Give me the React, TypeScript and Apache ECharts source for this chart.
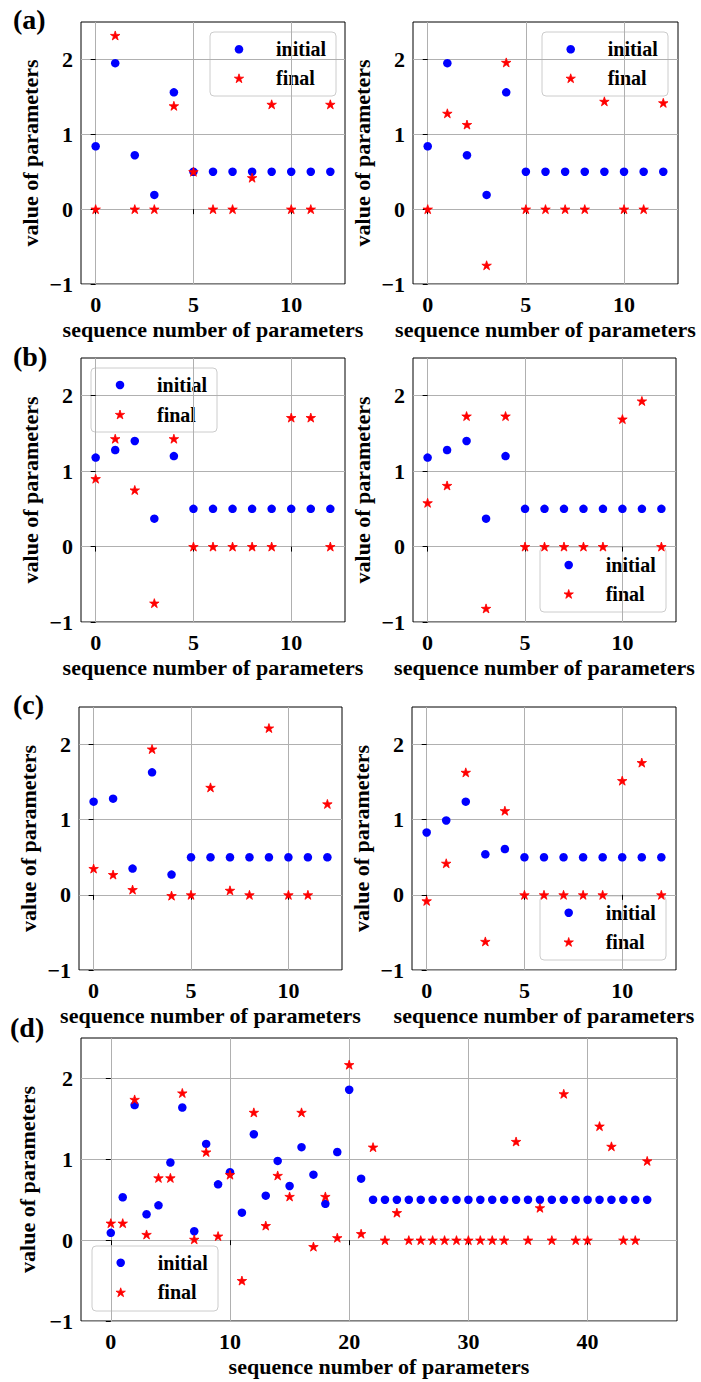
import React, { useEffect, useRef } from 'react';
import * as echarts from 'echarts';

// ---------- data ----------
const seq13 = [0, 1, 2, 3, 4, 5, 6, 7, 8, 9, 10, 11, 12];
const seq46 = [0, 1, 2, 3, 4, 5, 6, 7, 8, 9, 10, 11, 12, 13, 14, 15, 16, 17, 18, 19, 20, 21, 22, 23, 24, 25, 26, 27, 28, 29, 30, 31, 32, 33, 34, 35, 36, 37, 38, 39, 40, 41, 42, 43, 44, 45];

const aLeftInitial = [0.84, 1.95, 0.72, 0.19, 1.56, 0.5, 0.5, 0.5, 0.5, 0.5, 0.5, 0.5, 0.5];
const aLeftFinal = [0, 2.32, 0, 0, 1.38, 0.5, 0, 0, 0.42, 1.4, 0, 0, 1.4];
const aRightInitial = [0.84, 1.95, 0.72, 0.19, 1.56, 0.5, 0.5, 0.5, 0.5, 0.5, 0.5, 0.5, 0.5];
const aRightFinal = [0, 1.28, 1.13, -0.75, 1.96, 0, 0, 0, 0, 1.44, 0, 0, 1.42];

const bLeftInitial = [1.18, 1.28, 1.4, 0.37, 1.2, 0.5, 0.5, 0.5, 0.5, 0.5, 0.5, 0.5, 0.5];
const bLeftFinal = [0.9, 1.43, 0.75, -0.75, 1.43, 0, 0, 0, 0, 0, 1.71, 1.71, 0];
const bRightInitial = [1.18, 1.28, 1.4, 0.37, 1.2, 0.5, 0.5, 0.5, 0.5, 0.5, 0.5, 0.5, 0.5];
const bRightFinal = [0.58, 0.81, 1.73, -0.82, 1.73, 0, 0, 0, 0, 0, 1.69, 1.93, 0];

const cLeftInitial = [1.24, 1.28, 0.35, 1.63, 0.27, 0.5, 0.5, 0.5, 0.5, 0.5, 0.5, 0.5, 0.5];
const cLeftFinal = [0.35, 0.27, 0.07, 1.94, -0.01, 0, 1.43, 0.06, 0, 2.22, 0, 0, 1.21];
const cRightInitial = [0.83, 0.99, 1.24, 0.54, 0.61, 0.5, 0.5, 0.5, 0.5, 0.5, 0.5, 0.5, 0.5];
const cRightFinal = [-0.08, 0.42, 1.63, -0.62, 1.12, 0, 0, 0, 0, 0, 1.52, 1.76, 0];

const dInitial = [0.09, 0.53, 1.67, 0.32, 0.43, 0.96, 1.64, 0.11, 1.19, 0.69, 0.84, 0.34, 1.31, 0.55, 0.98, 0.67, 1.15, 0.81, 0.45, 1.09, 1.86, 0.76,
  0.5, 0.5, 0.5, 0.5, 0.5, 0.5, 0.5, 0.5, 0.5, 0.5, 0.5, 0.5, 0.5, 0.5, 0.5, 0.5, 0.5, 0.5, 0.5, 0.5, 0.5, 0.5, 0.5, 0.5];
const dFinal = [0.21, 0.21, 1.74, 0.07, 0.77, 0.77, 1.82, 0.01, 1.09, 0.05, 0.81, -0.5, 1.58, 0.18, 0.8, 0.54, 1.58, -0.08, 0.54, 0.03, 2.17, 0.08,
  1.15, 0, 0.34, 0, 0, 0, 0, 0, 0, 0, 0, 0, 1.22, 0, 0.4, 0, 1.81, 0, 0, 1.41, 1.16, 0, 0, 0.98];

const xTicks13 = [0, 5, 10];
const xTicks46 = [0, 10, 20, 30, 40];
const yTicks = [-1, 0, 1, 2];
const seriesNames = ['initial', 'final'];
const panelLabels = ['(a)', '(b)', '(c)', '(d)'];
const xTitle = 'sequence number of parameters';
const yTitle = 'value of parameters';

// ---------- styling ----------
const FONT = 'Liberation Serif';
const BLUE = '#0000ff';
const RED = '#ff0000';

function starPts(cx: number, cy: number, r: number): number[][] {
  const pts: number[][] = [];
  for (let i = 0; i < 10; i++) {
    const rr = i % 2 === 0 ? r : r * 0.381966;
    const a = Math.PI / 2 + (i * Math.PI) / 5;
    pts.push([cx + rr * Math.cos(a), cy - rr * Math.sin(a)]);
  }
  return pts;
}
const starPath = 'path://M' + starPts(0, 0, 1).map((p) => `${p[0].toFixed(4)} ${p[1].toFixed(4)}`).join(' L') + ' Z';

type Panel = {
  grid: { left: number; top: number; width: number; height: number };
  xMin: number; xMax: number; xSplit: number; xTicks: number[];
  seq: number[]; initial: number[]; final: number[];
  legend: null | { box: [number, number, number, number]; mx: number; r1: number; gap: number };
};

const panels: Panel[] = [
  { grid: { left: 81, top: 22, width: 264, height: 262 }, xMin: -0.75, xMax: 12.75, xSplit: 3, xTicks: xTicks13, seq: seq13, initial: aLeftInitial, final: aLeftFinal,
    legend: { box: [210, 32, 126, 64], mx: 239, r1: 49.3, gap: 29 } },
  { grid: { left: 413, top: 22, width: 265, height: 262 }, xMin: -0.75, xMax: 12.75, xSplit: 3, xTicks: xTicks13, seq: seq13, initial: aRightInitial, final: aRightFinal,
    legend: { box: [542, 32, 126, 64], mx: 570.7, r1: 49.3, gap: 29 } },
  { grid: { left: 81, top: 358, width: 264, height: 264 }, xMin: -0.75, xMax: 12.75, xSplit: 3, xTicks: xTicks13, seq: seq13, initial: bLeftInitial, final: bLeftFinal,
    legend: { box: [91, 368, 126, 64], mx: 120, r1: 385, gap: 29.5 } },
  { grid: { left: 413, top: 358, width: 263, height: 264 }, xMin: -0.75, xMax: 12.75, xSplit: 3, xTicks: xTicks13, seq: seq13, initial: bRightInitial, final: bRightFinal,
    legend: { box: [540, 547, 126, 65], mx: 568.7, r1: 565, gap: 29 } },
  { grid: { left: 79, top: 707, width: 263, height: 263 }, xMin: -0.75, xMax: 12.75, xSplit: 3, xTicks: xTicks13, seq: seq13, initial: cLeftInitial, final: cLeftFinal,
    legend: null },
  { grid: { left: 412, top: 707, width: 264, height: 263 }, xMin: -0.75, xMax: 12.75, xSplit: 3, xTicks: xTicks13, seq: seq13, initial: cRightInitial, final: cRightFinal,
    legend: { box: [540, 896, 126, 64], mx: 568.7, r1: 912.7, gap: 29.3 } },
  { grid: { left: 81, top: 1038, width: 596, height: 283 }, xMin: -2.5, xMax: 47.5, xSplit: 5, xTicks: xTicks46, seq: seq46, initial: dInitial, final: dFinal,
    legend: { box: [92, 1246, 126, 65], mx: 120.7, r1: 1262.7, gap: 29.6 } },
];

const labelPos: [number, number][] = [[13, 5], [13, 342], [13, 690], [10, 1013]];

const minusFmt = (v: number) => (v < 0 ? '\u2212' + Math.abs(v) : String(v));

function buildOption() {
  const grid: any[] = [];
  const xAxis: any[] = [];
  const yAxis: any[] = [];
  const series: any[] = [];
  const graphic: any[] = [];
  const tickFont = { fontFamily: FONT, fontWeight: 'bold', fontSize: 22, color: '#000' };

  panels.forEach((p, i) => {
    grid.push({ ...p.grid, show: true, borderColor: '#000', borderWidth: 1, backgroundColor: 'transparent', containLabel: false });
    xAxis.push({
      type: 'value', gridIndex: i, min: p.xMin, max: p.xMax, splitNumber: p.xSplit,
      name: xTitle, nameLocation: 'middle', nameGap: 34,
      nameTextStyle: { ...tickFont },
      axisLine: { show: false },
      axisTick: { show: true, length: 5, lineStyle: { color: '#000', width: 1 }, customValues: p.xTicks },
      axisLabel: { ...tickFont, margin: 9, customValues: p.xTicks, formatter: minusFmt },
      splitLine: { show: true, lineStyle: { color: '#b0b0b0', width: 1 } },
    });
    yAxis.push({
      type: 'value', gridIndex: i, min: -1, max: 2.5, interval: 1,
      name: yTitle, nameLocation: 'middle', nameGap: 40,
      nameTextStyle: { ...tickFont },
      axisLine: { show: false },
      axisTick: { show: true, length: 5, lineStyle: { color: '#000', width: 1 }, customValues: yTicks },
      axisLabel: { ...tickFont, margin: 8, customValues: yTicks, formatter: minusFmt },
      splitLine: { show: true, lineStyle: { color: '#b0b0b0', width: 1 } },
    });
    series.push({
      type: 'scatter', name: seriesNames[0], xAxisIndex: i, yAxisIndex: i,
      symbol: 'circle', symbolSize: 8.5, itemStyle: { color: BLUE, opacity: 1 },
      data: p.initial.map((v, k) => [p.seq[k], v]), silent: true, z: 2,
    });
    series.push({
      type: 'scatter', name: seriesNames[1], xAxisIndex: i, yAxisIndex: i,
      symbol: starPath, symbolSize: 9.5, symbolKeepAspect: true,
      itemStyle: { color: RED, opacity: 1, borderColor: RED, borderWidth: 0.8 },
      data: p.final.map((v, k) => [p.seq[k], v]), silent: true, z: 2,
    });
    if (p.legend) {
      const L = p.legend;
      const [bx, by, bw, bh] = L.box;
      const r2 = L.r1 + L.gap;
      const tx = L.mx + 37;
      graphic.push({
        type: 'group', z: 10, silent: true,
        children: [
          { type: 'rect', shape: { x: bx, y: by, width: bw, height: bh, r: 4 },
            style: { fill: 'rgba(255,255,255,0.8)', stroke: '#cccccc', lineWidth: 1 } },
          { type: 'circle', shape: { cx: L.mx, cy: L.r1, r: 4.25 }, style: { fill: BLUE } },
          { type: 'polygon', shape: { points: starPts(L.mx, r2 + 0.4, 4.9) }, style: { fill: RED, stroke: RED, lineWidth: 0.8 } },
          { type: 'text', x: tx, y: L.r1, style: { text: seriesNames[0], fontFamily: FONT, fontWeight: 'bold', fontSize: 20, fill: '#000', verticalAlign: 'middle', align: 'left' } },
          { type: 'text', x: tx, y: r2, style: { text: seriesNames[1], fontFamily: FONT, fontWeight: 'bold', fontSize: 20, fill: '#000', verticalAlign: 'middle', align: 'left' } },
        ],
      });
    }
  });

  panelLabels.forEach((t, i) => {
    graphic.push({
      type: 'text', x: labelPos[i][0], y: labelPos[i][1], z: 10,
      style: { text: t, fontFamily: FONT, fontWeight: 'bold', fontSize: 28, fill: '#000' },
    });
  });

  return { animation: false, backgroundColor: '#fff', grid, xAxis, yAxis, series, graphic };
}

export default function App() {
  const ref = useRef<HTMLDivElement>(null);
  useEffect(() => {
    if (!ref.current) return;
    const chart = echarts.init(ref.current, undefined, { renderer: 'svg' });
    chart.setOption(buildOption());
    return () => chart.dispose();
  }, []);
  return <div ref={ref} style={{ position: 'absolute', left: 0, top: 0, width: 701, height: 1382 }} />;
}
